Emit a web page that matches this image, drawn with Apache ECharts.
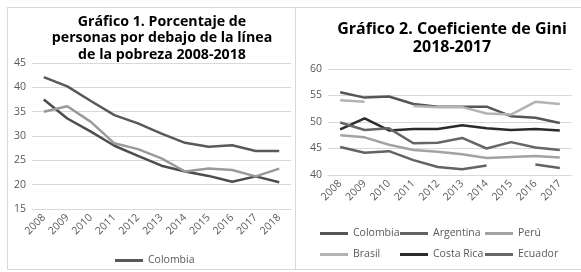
<!DOCTYPE html>
<html>
<head>
<meta charset="utf-8">
<script src="https://cdn.jsdelivr.net/npm/echarts@6/dist/echarts.min.js"></script>
<style>
body{margin:0;background:#fff;width:581px;height:272px;overflow:hidden;position:relative;}
.chart{position:absolute;border:1px solid #d9d9d9;box-sizing:border-box;background:#fff;}
#pobreza_chart{left:7px;top:7px;width:290px;height:263px;}
#gini_chart{left:295px;top:7px;width:290px;height:263px;}
</style>
</head>
<body>
<div id="pobreza_chart" class="chart"></div>
<div id="gini_chart" class="chart"></div>
<script>
// Grafico 1
var pobreza_years = ["2008","2009","2010","2011","2012","2013","2014","2015","2016","2017","2018"];
var pobreza_colombia = [42.1, 40.2, 37.2, 34.3, 32.6, 30.5, 28.6, 27.8, 28.1, 26.9, 26.9];
var pobreza_serie2 = [37.5, 33.6, 30.9, 28.0, 25.9, 23.9, 22.7, 21.8, 20.6, 21.7, 20.5];
var pobreza_serie3 = [35.0, 36.1, 32.9, 28.5, 27.3, 25.4, 22.7, 23.3, 23.0, 21.7, 23.3];
var pobreza_ticks = [15, 45, 5];

// Grafico 2
var gini_years = ["2008","2009","2010","2011","2012","2013","2014","2015","2016","2017"];
var gini_colombia = [55.6, 54.6, 54.8, 53.4, 52.9, 52.9, 52.9, 51.1, 50.8, 49.8];
var gini_argentina = [45.3, 44.2, 44.5, 42.8, 41.5, 41.1, 41.8, null, 42.0, 41.3];
var gini_peru = [47.5, 47.1, 45.7, 44.7, 44.4, 43.9, 43.2, 43.4, 43.6, 43.3];
var gini_brasil = [54.1, 53.8, null, 53.0, 52.8, 52.8, 51.6, 51.4, 53.8, 53.4];
var gini_costarica = [48.6, 50.7, 48.4, 48.7, 48.7, 49.4, 48.8, 48.5, 48.7, 48.4];
var gini_ecuador = [49.9, 48.5, 48.8, 46.0, 46.1, 47.0, 45.0, 46.2, 45.2, 44.7];
var gini_ticks = [40, 60, 5];

var font = "Open Sans";
var txt_color = "#595959";
var grid_color = "#d9d9d9";

function lineSerie(name, data, color){
	return {
		name: name,
		type: 'line',
		data: data,
		symbol: 'none',
		lineStyle: {color: color, width: 2.5},
		itemStyle: {color: color},
		connectNulls: false
	};
}

function xAxisOpt(years){
	return {
		type: 'category',
		data: years,
		axisLine: {lineStyle: {color: grid_color}},
		axisTick: {show: false},
		axisLabel: {rotate: 45, color: txt_color, fontFamily: font, fontSize: 10.5, margin: 7, interval: 0}
	};
}
function yAxisOpt(t){
	return {
		type: 'value',
		min: t[0], max: t[1], interval: t[2],
		axisLine: {show: false},
		axisTick: {show: false},
		splitLine: {lineStyle: {color: grid_color}},
		axisLabel: {color: txt_color, fontFamily: font, fontSize: 10.5, margin: 6}
	};
}

function show_pobreza_chart(){
	var myChart = echarts.init(document.getElementById('pobreza_chart'));
	var option = {
		animation: false,
		title: {
			text: "Gráfico 1. Porcentaje de\npersonas por debajo de la línea\nde la pobreza 2008-2018",
			left: 149, textAlign: 'center', top: 1,
			textStyle: {fontFamily: font, fontSize: 14.2, fontWeight: 'bold', color: '#000', lineHeight: 16.3}
		},
		legend: {
			data: ['Colombia'],
			left: 107, top: 247, padding: 0,
			icon: 'rect', itemWidth: 28, itemHeight: 3,
			textStyle: {color: txt_color, fontFamily: font, fontSize: 10.5}
		},
		grid: {left: 24, right: 5, top: 55, bottom: 60, containLabel: false},
		xAxis: xAxisOpt(pobreza_years),
		yAxis: yAxisOpt(pobreza_ticks),
		series: [
			lineSerie('Colombia', pobreza_colombia, '#595959'),
			lineSerie('Serie 2', pobreza_serie2, '#4d4d4d'),
			lineSerie('Serie 3', pobreza_serie3, '#9a9a9a')
		]
	};
	myChart.setOption(option);
}

function show_gini_chart(){
	var myChart = echarts.init(document.getElementById('gini_chart'));
	var legendBase = {
		orient: 'vertical', top: 220, itemGap: 10, padding: 0,
		icon: 'rect', itemWidth: 28, itemHeight: 3,
		textStyle: {color: txt_color, fontFamily: font, fontSize: 10.5}
	};
	var option = {
		animation: false,
		title: {
			text: "Gráfico 2. Coeficiente de Gini\n2018-2017",
			left: 151, textAlign: 'center', top: 7,
			textStyle: {fontFamily: font, fontSize: 16, fontWeight: 'bold', color: '#000', lineHeight: 18}
		},
		legend: [
			echarts.util.merge({data: ['Colombia', 'Brasil'], left: 24}, legendBase),
			echarts.util.merge({data: ['Argentina', 'Costa Rica'], left: 104}, legendBase),
			echarts.util.merge({data: ['Perú', 'Ecuador'], left: 189}, legendBase)
		],
		grid: {left: 32, right: 12, top: 61, bottom: 94, containLabel: false},
		xAxis: xAxisOpt(gini_years),
		yAxis: yAxisOpt(gini_ticks),
		series: [
			lineSerie('Colombia', gini_colombia, '#555555'),
			lineSerie('Argentina', gini_argentina, '#636363'),
			lineSerie('Perú', gini_peru, '#a3a3a3'),
			lineSerie('Brasil', gini_brasil, '#b3b3b3'),
			lineSerie('Costa Rica', gini_costarica, '#2b2b2b'),
			lineSerie('Ecuador', gini_ecuador, '#666666')
		]
	};
	myChart.setOption(option);
}

show_pobreza_chart();
show_gini_chart();
</script>
</body>
</html>
